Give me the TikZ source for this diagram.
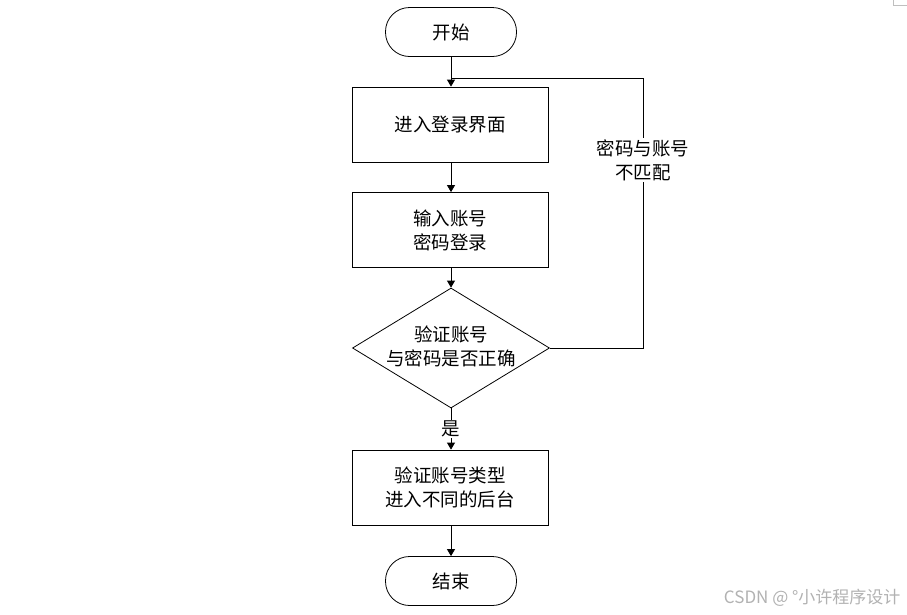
\documentclass[tikz,border=0pt]{standalone}
\usepackage{fontspec}
\setmainfont{Noto Sans CJK SC}
\newfontfamily\cjk{Noto Sans CJK SC}
\usetikzlibrary{shapes.geometric,arrows.meta}
\begin{document}
\begin{tikzpicture}[x=1pt,y=-1pt,
  every node/.style={font=\fontsize{18.5}{24}\selectfont},
  term/.style={draw, line width=0.8pt, rectangle, rounded corners=24pt, minimum width=131pt, minimum height=49pt, inner sep=0pt},
  procbox/.style={draw, line width=0.8pt, rectangle, minimum width=196pt, minimum height=75pt, inner sep=0pt, align=center},
  decision/.style={draw, line width=0.8pt, diamond, minimum width=197pt, minimum height=120pt, inner sep=0pt},
  flow/.style={line width=0.8pt, -{Triangle[width=8pt,length=7pt]}},
  link/.style={line width=0.8pt},
  lab/.style={fill=white, inner sep=1pt, align=center}]
\useasboundingbox (0,0) rectangle (907,614);
\fill[white] (0,0) rectangle (907,614);
\node[term] (s) at (451,32) {开始};
\node[procbox] (b1) at (450,124.5) {进入登录界面};
\node[procbox] (b2) at (450,230) {输入账号\\密码登录};
\node[decision] (d) at (451,348) {};
\node[align=center] (dt) at (451,346) {验证账号\\与密码是否正确};
\node[procbox] (b3) at (450,487.5) {验证账号类型\\进入不同的后台};
\node[term] (e) at (451,581) {结束};
\coordinate (j) at (451,78);
\coordinate (c1) at (643,348);
\coordinate (c2) at (643,78);
\draw[flow] (s.south -| j) -- (b1.north -| j);
\draw[flow] (b1.south -| j) -- (b2.north -| j);
\draw[flow] (b2.south -| d) -- (d.north);
\draw[flow] (d.south) -- node[lab, pos=0.5] (yes) {是} (b3.north -| d);
\draw[flow] (b3.south -| e) -- (e.north);
\draw[link] (d.east) -- (c1) -- (c2) -- (j);
\node[lab] (nm) at (643,160) {密码与账号\\不匹配};
\draw[gray!50, line width=0.8pt] (893,0) -- (893,5) -- (907,5);
\node[text=gray!60, font=\fontsize{17}{19}\selectfont, anchor=east] (wm) at (904,598) {CSDN @ °小许程序设计};
\end{tikzpicture}
\end{document}
